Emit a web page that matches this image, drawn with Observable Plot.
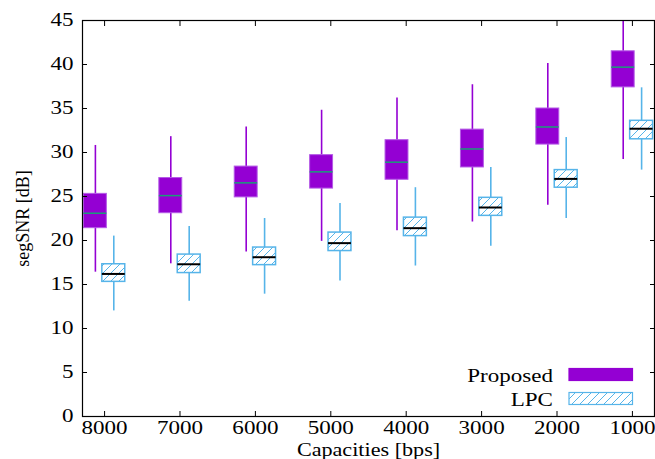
<!DOCTYPE html>
<html><head><meta charset="utf-8">
<script src="https://cdn.jsdelivr.net/npm/d3@7"></script>
<script src="https://cdn.jsdelivr.net/npm/@observablehq/plot@0.6"></script>
<style>html,body{margin:0;padding:0;background:#fff} svg{display:block}</style>
</head><body><div id="chart"></div>
<script>
const capacities = [8000, 7000, 6000, 5000, 4000, 3000, 2000, 1000];
const yTicks = [0, 5, 10, 15, 20, 25, 30, 35, 40, 45];
const seriesNames = ["Proposed", "LPC"];

const proposedMin = [16.4, 17.35, 18.7, 19.9, 21.1, 22.1, 24.0, 29.2];
const proposedQ1  = [21.4, 23.1, 24.9, 25.9, 26.9, 28.3, 30.9, 37.4];
const proposedMed = [23.1, 25.1, 26.55, 27.8, 28.9, 30.4, 32.9, 39.7];
const proposedQ3  = [25.3, 27.1, 28.4, 29.7, 31.4, 32.6, 35.0, 41.5];
const proposedMax = [30.8, 31.8, 32.9, 34.8, 36.2, 37.7, 40.1, 45.5];

const lpcMin = [12.0, 13.1, 13.9, 15.4, 17.1, 19.35, 22.5, 28.0];
const lpcQ1  = [15.3, 16.3, 17.2, 18.8, 20.5, 22.8, 26.0, 31.5];
const lpcMed = [16.2, 17.3, 18.1, 19.7, 21.4, 23.75, 27.0, 32.7];
const lpcQ3  = [17.3, 18.4, 19.2, 20.9, 22.6, 24.85, 28.0, 33.6];
const lpcMax = [20.5, 21.6, 22.5, 24.2, 26.0, 28.3, 31.7, 37.35];

const idx = d3.range(capacities.length);
const OFF = 0.122, HW = 0.152;
const proposed = idx.map(i => ({i, x: i - OFF, min: proposedMin[i], q1: proposedQ1[i], med: proposedMed[i], q3: proposedQ3[i], max: proposedMax[i]}));
const lpc = idx.map(i => ({i, x: i + OFF, min: lpcMin[i], q1: lpcQ1[i], med: lpcMed[i], q3: lpcQ3[i], max: lpcMax[i]}));

const VIOLET = "#9400d3", SKY = "#56b4e9", TEAL = "#1a9e77";
const FONT = "'Liberation Serif', 'DejaVu Serif', serif";
const X_LABEL = "Capacities [bps]";

const plot = Plot.plot({
  width: 655, height: 459,
  marginLeft: 82, marginRight: 1, marginTop: 20, marginBottom: 43,
  style: {fontFamily: FONT, fontSize: "18px", background: "white", color: "black"},
  x: {type: "linear", domain: [-0.293, 7.293]},
  y: {domain: [0, 45]},
  marks: [
    Plot.ruleX(proposed, {x: "x", y1: "min", y2: "max", stroke: VIOLET, strokeWidth: 1.6, clip: true}),
    Plot.rect(proposed, {x1: d => d.x - HW, x2: d => d.x + HW, y1: "q1", y2: "q3", fill: VIOLET, stroke: "#b45ae6", strokeWidth: 1}),
    Plot.ruleY(proposed, {x1: d => d.x - HW, x2: d => d.x + HW, y: "med", stroke: TEAL, strokeWidth: 1.5}),
    Plot.ruleX(lpc, {x: "x", y1: "min", y2: "max", stroke: SKY, strokeWidth: 1.6}),
    Plot.rect(lpc, {x1: d => d.x - HW, x2: d => d.x + HW, y1: "q1", y2: "q3", fill: "white"}),
    Plot.rect(lpc, {x1: d => d.x - HW, x2: d => d.x + HW, y1: "q1", y2: "q3", fill: "url(#hatch)", stroke: SKY, strokeWidth: 1.5}),
    Plot.ruleY(lpc, {x1: d => d.x - HW, x2: d => d.x + HW, y: "med", stroke: "black", strokeWidth: 2}),
    Plot.frame({stroke: "black", strokeWidth: 1.2}),
    Plot.axisY(yTicks, {anchor: "left", tickSize: -5, tickPadding: 14, label: "segSNR [dB]", labelAnchor: "center", labelOffset: 66, labelArrow: "none"}),
    Plot.axisY(yTicks, {anchor: "right", tickSize: -5, tickFormat: () => "", label: null}),
    Plot.axisX(idx, {anchor: "bottom", tickSize: -5, tickPadding: 10, tickFormat: i => String(capacities[i]), label: X_LABEL, labelAnchor: "center", labelOffset: 39, labelArrow: "none"}),
    Plot.axisX(idx, {anchor: "top", tickSize: -5, tickFormat: () => "", label: null})
  ]
});

const svg = d3.select(plot);
const defs = svg.insert("defs", ":first-child");
const pat = defs.append("pattern").attr("id", "hatch").attr("patternUnits", "userSpaceOnUse")
  .attr("width", 8).attr("height", 8);
pat.append("path").attr("d", "M-2,2 L2,-2 M0,8 L8,0 M6,10 L10,6")
  .attr("stroke", SKY).attr("stroke-width", 1).attr("fill", "none");

// legend (layout only)
const lg = svg.append("g").attr("font-family", FONT).attr("font-size", 18);
const legendRows = [{name: seriesNames[0], y: 368.5, fill: VIOLET, stroke: VIOLET}, {name: seriesNames[1], y: 392.5, fill: "url(#hatch)", stroke: SKY}];
legendRows.forEach(r => {
  lg.append("rect").attr("x", 569).attr("y", r.y).attr("width", 63.5).attr("height", 12).attr("fill", r.fill === "url(#hatch)" ? "white" : r.fill);
  lg.append("rect").attr("x", 569).attr("y", r.y).attr("width", 63.5).attr("height", 12).attr("fill", r.fill).attr("stroke", r.stroke).attr("stroke-width", 1.2);
  lg.append("text").attr("x", 553).attr("y", r.y + 13).attr("text-anchor", "end").text(r.name);
});

document.getElementById("chart").appendChild(plot);

// The reference glyphs are horizontally wide: stretch horizontal text
svg.selectAll("text").each(function() {
  const t = this;
  if (!t.textContent || t.querySelector("tspan")) return;
  const tr = t.getAttribute("transform") || "";
  if (tr.includes("rotate")) return;
  const w = t.getComputedTextLength();
  const k = t.textContent === X_LABEL ? 1.23 : 1.28;
  if (w > 0) {
    t.setAttribute("textLength", (w * k).toFixed(2));
    t.setAttribute("lengthAdjust", "spacingAndGlyphs");
  }
});
</script>
</body></html>
